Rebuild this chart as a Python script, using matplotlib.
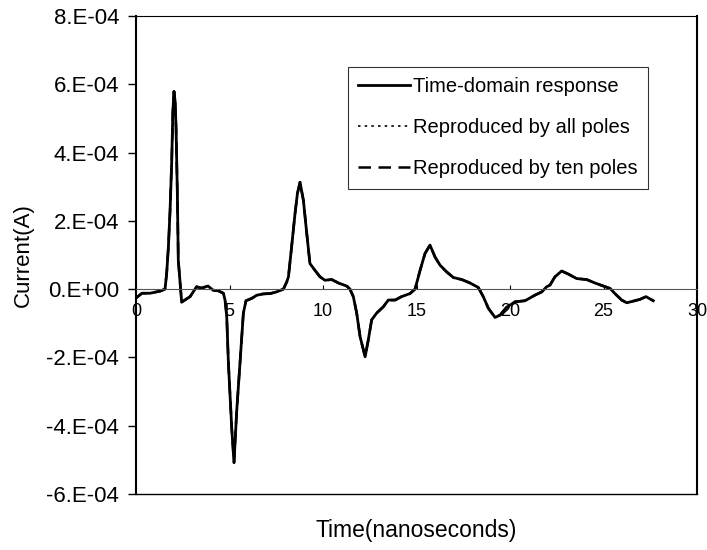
import matplotlib.pyplot as plt
from matplotlib.ticker import FuncFormatter

plt.rcParams['font.family'] = ['Liberation Sans', 'DejaVu Sans']

# time in ns, current in A
time_ns = [0.0, 0.32, 0.75, 1.28, 1.55, 1.64, 1.73, 1.82, 1.91, 1.97, 2.03, 2.09, 2.14, 2.21, 2.26,
           2.44, 2.89, 3.24, 3.5, 3.85, 4.12, 4.4, 4.67, 4.76, 4.85, 4.94, 5.12, 5.24,
           5.38, 5.56, 5.74, 5.88, 6.19, 6.45, 6.8, 7.17, 7.52, 7.88, 8.06, 8.15, 8.32,
           8.5, 8.63, 8.77, 8.95, 9.13, 9.3, 9.57, 9.84, 10.1, 10.47, 10.82, 11.27, 11.44,
           11.62, 11.8, 11.98, 12.25, 12.42, 12.6, 12.87, 13.22, 13.49, 13.85, 14.2, 14.65,
           14.92, 15.19, 15.45, 15.72, 15.99, 16.26, 16.6, 16.97, 17.42, 17.86, 18.3, 18.57,
           18.84, 19.2, 19.47, 19.82, 20.27, 20.8, 21.34, 21.7, 21.96, 22.14, 22.4, 22.76,
           23.12, 23.56, 24.1, 24.54, 24.99, 25.35, 25.61, 25.97, 26.24, 26.6, 26.95,
           27.27, 27.66]
current = [-2.6e-5, -1.2e-5, -1.2e-5, -0.6e-5, 0.0, 4.7e-5, 1.23e-4, 2.3e-4, 3.77e-4, 5.2e-4,
           5.79e-4, 5.5e-4, 4.74e-4, 2.8e-4, 8.5e-5, -3.8e-5, -2.2e-5, 0.7e-5, 0.3e-5, 0.9e-5,
           -0.3e-5, -0.5e-5, -1.2e-5, -3.2e-5, -8e-5, -2.16e-4, -4.1e-4, -5.08e-4, -3.6e-4,
           -2.16e-4, -7e-5, -3.4e-5, -2.7e-5, -1.8e-5, -1.4e-5, -1.3e-5, -0.8e-5, 0.0,
           2.1e-5, 3.6e-5, 1.24e-4, 2.2e-4, 2.8e-4, 3.13e-4, 2.6e-4, 1.63e-4, 7.5e-5, 5.5e-5,
           3.6e-5, 2.6e-5, 2.8e-5, 1.8e-5, 0.9e-5, 0.0, -2.2e-5, -7e-5, -1.39e-4, -1.98e-4,
           -1.49e-4, -9e-5, -7e-5, -5.2e-5, -3.2e-5, -3.2e-5, -2.2e-5, -1.3e-5, 0.0, 5.5e-5,
           1.04e-4, 1.29e-4, 9.4e-5, 7e-5, 5.1e-5, 3.4e-5, 2.8e-5, 1.8e-5, 0.5e-5, -2.2e-5,
           -5.6e-5, -8.3e-5, -7.6e-5, -5.3e-5, -3.7e-5, -3.4e-5, -1.75e-5, -0.8e-5, 0.7e-5,
           1.2e-5, 3.6e-5, 5.3e-5, 4.4e-5, 3.1e-5, 2.8e-5, 1.8e-5, 0.9e-5, 0.2e-5, -1.3e-5,
           -3.2e-5, -4e-5, -3.5e-5, -3e-5, -2.2e-5, -3.4e-5]
# both reconstructions sit on top of the measured curve
all_poles = current
ten_poles = current

x_ticks = [0, 5, 10, 15, 20, 25, 30]
y_ticks = [-6e-4, -4e-4, -2e-4, 0, 2e-4, 4e-4, 6e-4, 8e-4]

fig = plt.figure(figsize=(7.07, 5.5), dpi=100)
ax = fig.add_axes([0.1924, 0.1018, 0.7935, 0.8692])

ax.plot(time_ns, current, color='black', lw=2.0, label='Time-domain response')
ax.plot(time_ns, all_poles, color='black', lw=1.2, ls=(0, (1.5, 2.5)), label='Reproduced by all poles')
ax.plot(time_ns, ten_poles, color='black', lw=1.8, ls=(0, (5, 3)), label='Reproduced by ten poles')

ax.set_xlim(0, 30)
ax.set_ylim(-6e-4, 8e-4)
ax.set_xticks(x_ticks)
ax.set_yticks(y_ticks)

def sci(v, pos):
    if abs(v) < 1e-12:
        return '0.E+00'
    m, e = f'{v:.0E}'.split('E')
    return f'{m}.E{e[0]}{e[1:].zfill(2)}'

ax.yaxis.set_major_formatter(FuncFormatter(sci))
ax.tick_params(axis='y', labelsize=16, length=6, width=1, direction='out', pad=6)
ax.tick_params(axis='x', labelsize=13, length=3, width=0.8, direction='in', pad=10)

# x axis crosses at zero, box drawn around the plot area
ax.spines['bottom'].set_position(('data', 0))
ax.spines['bottom'].set_linewidth(0.8)
ax.spines['bottom'].set_color('#555555')
ax.spines['left'].set_linewidth(1.5)
ax.spines['right'].set_linewidth(1.5)
ax.spines['top'].set_linewidth(0.8)
ax.plot([0, 1], [0, 0], transform=ax.transAxes, color='black', lw=1.0, clip_on=False)

fig.text(0.033, 0.536, 'Current(A)', rotation=90, ha='center', va='center', fontsize=16)
fig.text(0.588, 0.036, 'Time(nanoseconds)', ha='center', va='center', fontsize=16.5)

leg = ax.legend(loc='upper left', bbox_to_anchor=(0.492, 0.878), bbox_transform=fig.transFigure,
                fontsize=14.5, frameon=True, fancybox=False, borderaxespad=0,
                handlelength=2.6, handletextpad=0.15, labelspacing=1.1, borderpad=0.5)
leg.get_frame().set_edgecolor('black')
leg.get_frame().set_linewidth(0.8)

fig.savefig('out.png', dpi=100)
